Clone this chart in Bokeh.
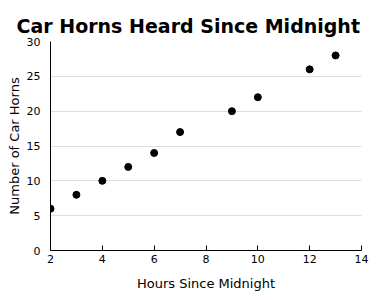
from bokeh.plotting import figure
from bokeh.embed import file_html
from bokeh.resources import INLINE
from bokeh.models import Range1d, FixedTicker

hours = [2, 3, 4, 5, 6, 7, 9, 10, 12, 13]
horns = [6, 8, 10, 12, 14, 17, 20, 22, 26, 28]
x_ticks = [2, 4, 6, 8, 10, 12, 14]
y_ticks = [0, 5, 10, 15, 20, 25, 30]
title = "Car Horns Heard Since Midnight"

FONT = "DejaVu Sans"

p = figure(width=380, height=300, output_backend="svg", toolbar_location=None,
           x_range=Range1d(2, 14), y_range=Range1d(0, 30),
           min_border_left=50, min_border_right=19, min_border_top=41, min_border_bottom=50)
p.title.text = title
p.title.text_font = FONT
p.title.text_font_size = "19px"
p.title.text_font_style = "bold"
p.title.text_color = "black"
p.title.align = "left"
p.title.offset = -34
p.title.vertical_align = "top"
p.title.text_line_height = 1.6
p.title.standoff = 6
p.outline_line_color = None

p.scatter(hours, horns, size=7, color="black")

p.xaxis.ticker = FixedTicker(ticks=x_ticks)
p.yaxis.ticker = FixedTicker(ticks=y_ticks)
p.xaxis.axis_label = "Hours Since Midnight"
p.yaxis.axis_label = "Number of Car Horns"
for ax in (p.xaxis, p.yaxis):
    ax.axis_label_text_font = FONT
    ax.axis_label_text_font_size = "13px"
    ax.axis_label_text_font_style = "normal"
    ax.axis_label_text_color = "black"
    ax.major_label_text_font = FONT
    ax.major_label_text_font_size = "11px"
    ax.major_label_text_color = "black"
    ax.axis_line_color = "black"
    ax.axis_line_width = 1
    ax.minor_tick_line_color = None
    ax.major_label_standoff = 4
p.xaxis.major_tick_in = 5
p.xaxis.major_tick_out = 0
p.xaxis.major_tick_line_color = "black"
p.yaxis.major_tick_line_color = None
p.xaxis.axis_label_standoff = 10
p.yaxis.axis_label_standoff = 2
p.xgrid.grid_line_color = None
p.ygrid.grid_line_color = "#dddddd"

open("out.html", "w").write(file_html(p, INLINE))
